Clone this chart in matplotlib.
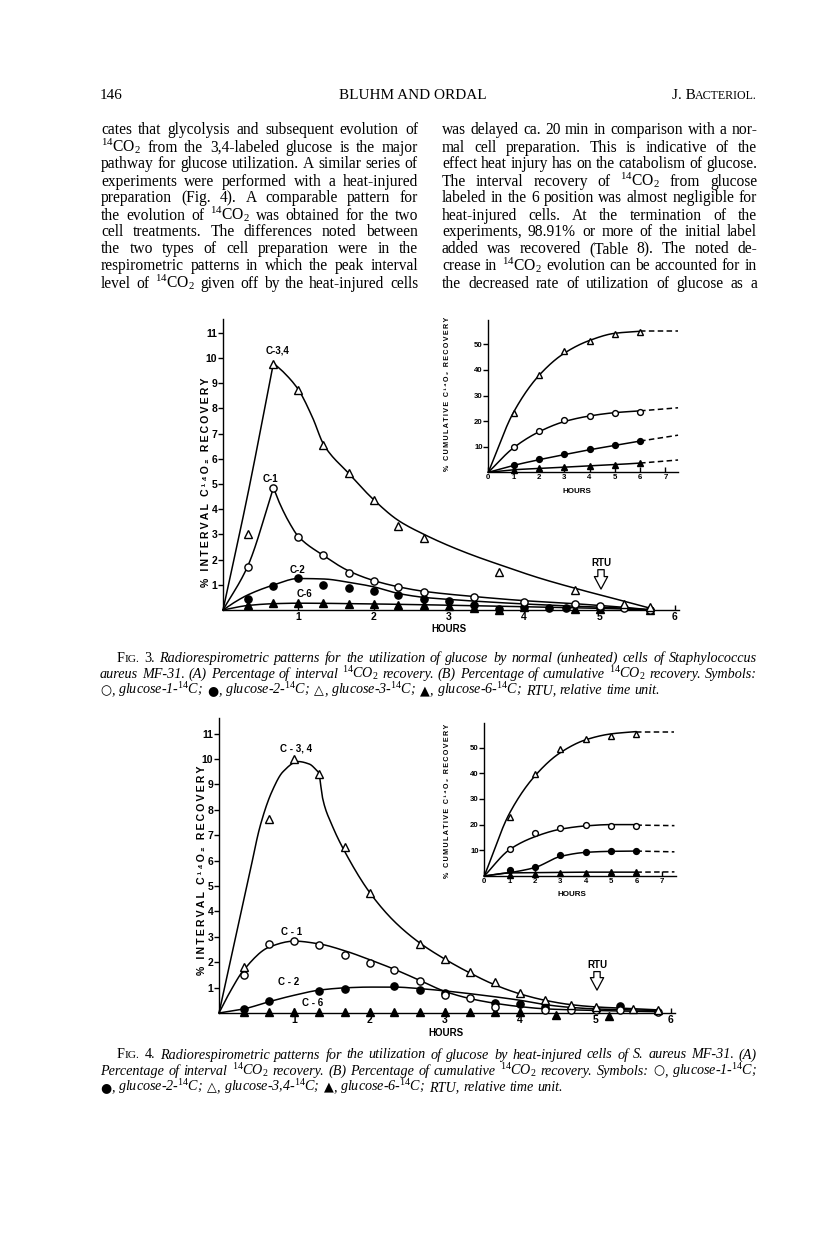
import numpy as np
import matplotlib
matplotlib.use("Agg")
import matplotlib.pyplot as plt

plt.rcParams['font.family'] = ['Liberation Sans', 'DejaVu Sans']
plt.rcParams['font.weight'] = 'normal'
plt.rcParams['mathtext.fontset'] = 'custom'
plt.rcParams['mathtext.rm'] = 'Liberation Serif'
plt.rcParams['mathtext.it'] = 'Liberation Serif:italic'
plt.rcParams['mathtext.bf'] = 'Liberation Sans:bold'
plt.rcParams['axes.linewidth'] = 1.0

# ---------------------------------------------------------------- data
# Fig. 3 (normal cells) - interval recovery (A)
f3_c34_x = [0.33, 0.67, 1.0, 1.33, 1.67, 2.0, 2.33, 2.67, 3.67, 4.67, 5.33, 5.67]
f3_c34_y = [3.0, 9.75, 8.75, 6.55, 5.45, 4.35, 3.35, 2.85, 1.5, 0.8, 0.25, 0.12]
f3_c1_x = [0.33, 0.67, 1.0, 1.33, 1.67, 2.0, 2.33, 2.67, 3.33, 4.0, 4.67, 5.0, 5.33, 5.67]
f3_c1_y = [1.72, 4.85, 2.9, 2.17, 1.47, 1.15, 0.9, 0.7, 0.52, 0.33, 0.25, 0.14, 0.06, 0.0]
f3_c2_x = [0.33, 0.67, 1.0, 1.33, 1.67, 2.0, 2.33, 2.67, 3.0, 3.33, 3.67, 4.0, 4.33, 4.55, 5.0, 5.67]
f3_c2_y = [0.43, 0.95, 1.28, 0.98, 0.86, 0.74, 0.6, 0.45, 0.34, 0.2, 0.05, 0.13, 0.08, 0.08, 0.08, 0.0]
f3_c6_x = [0.33, 0.67, 1.0, 1.33, 1.67, 2.0, 2.33, 2.67, 3.0, 3.33, 3.67, 4.0, 4.67, 5.0, 5.67]
f3_c6_y = [0.18, 0.27, 0.28, 0.27, 0.24, 0.22, 0.2, 0.18, 0.15, 0.08, 0.0, 0.1, 0.02, 0.05, 0.0]
# hand-drawn fitted curves (knots)
f3_c34_rise_x = [0, 0.33, 0.67]
f3_c34_rise_y = [0, 4.6, 9.8]
f3_c34_fall_x = [0.67, 0.8, 1.0, 1.19, 1.34, 1.67, 2.0, 2.33, 2.67, 3.0, 3.32, 3.68, 4.21, 4.69, 5.35, 5.7]
f3_c34_fall_y = [9.8, 9.45, 8.75, 7.63, 6.55, 5.42, 4.38, 3.55, 3.0, 2.55, 2.17, 1.79, 1.26, 0.85, 0.33, 0.05]
f3_c1_rise_x = [0, 0.33, 0.67]
f3_c1_rise_y = [0, 1.75, 4.85]
f3_c1_fall_x = [0.67, 0.75, 0.88, 1.0, 1.33, 1.67, 2.0, 2.33, 2.67, 3.35, 4.0, 4.67, 5.0, 5.35, 5.7]
f3_c1_fall_y = [4.85, 4.25, 3.47, 2.92, 2.17, 1.55, 1.17, 0.92, 0.74, 0.53, 0.37, 0.25, 0.18, 0.1, 0.0]
f3_c2_fit_x = [0, 0.15, 0.33, 0.67, 1.0, 1.34, 1.67, 2.0, 2.34, 2.67, 3.0, 3.35, 4.0, 4.67, 5.35, 5.7]
f3_c2_fit_y = [0, 0.3, 0.6, 0.99, 1.25, 1.23, 1.1, 0.92, 0.65, 0.5, 0.42, 0.35, 0.24, 0.15, 0.07, 0.0]
f3_c6_fit_x = [0, 0.33, 0.67, 1.0, 2.0, 3.0, 4.0, 5.0, 5.7]
f3_c6_fit_y = [0, 0.18, 0.25, 0.27, 0.24, 0.19, 0.13, 0.07, 0.0]

# Fig. 3 inset - cumulative recovery (B)
cum_hours = [1, 2, 3, 4, 5, 6]
f3b_c34 = [23.0, 38.2, 47.4, 51.2, 53.9, 54.8]
f3b_c1 = [10.0, 16.2, 20.4, 21.9, 23.0, 23.4]
f3b_c2 = [2.9, 5.2, 7.0, 9.0, 10.6, 12.3]
f3b_c6 = [1.0, 1.5, 2.0, 2.5, 3.0, 3.6]
fit_hours = [0, 1, 2, 3, 4, 5, 6]
f3b_c34_fit = [0, 23.5, 37.8, 46.5, 51.5, 54.3, 55.1]
f3b_c1_fit = [0, 9.6, 15.8, 19.8, 22.0, 23.3, 24.0]
f3b_c2_fit = [0, 2.7, 4.9, 6.9, 8.8, 10.5, 12.2]
f3b_c6_fit = [0, 1.0, 1.5, 2.0, 2.5, 3.0, 3.6]
dash_hours = [6, 7.5]
f3b_c34_dash = [55.1, 55.1]
f3b_c1_dash = [24.0, 25.2]
f3b_c2_dash = [12.2, 14.5]
f3b_c6_dash = [3.6, 4.8]

# Fig. 4 (heat-injured cells) - interval recovery (A)
f4_c34_x = [0.33, 0.67, 1.0, 1.33, 1.67, 2.0, 2.67, 3.0, 3.33, 3.67, 4.0, 4.33, 4.67, 5.0, 5.5, 5.83]
f4_c34_y = [1.81, 7.63, 9.99, 9.4, 6.54, 4.73, 2.73, 2.14, 1.62, 1.23, 0.77, 0.51, 0.31, 0.25, 0.15, 0.1]
f4_c1_x = [0.33, 0.67, 1.0, 1.33, 1.67, 2.0, 2.33, 2.67, 3.0, 3.33, 3.67, 4.33, 4.67, 5.0, 5.33, 5.83]
f4_c1_y = [1.48, 2.73, 2.83, 2.67, 2.3, 1.98, 1.68, 1.25, 0.7, 0.59, 0.25, 0.12, 0.1, 0.1, 0.1, 0.05]
f4_c2_x = [0.33, 0.67, 1.33, 1.67, 2.33, 2.67, 3.0, 3.67, 4.0, 4.33, 5.33]
f4_c2_y = [0.17, 0.46, 0.87, 0.96, 1.05, 0.89, 0.8, 0.41, 0.37, 0.24, 0.26]
f4_c6_x = [0.33, 0.67, 1.0, 1.33, 1.67, 2.0, 2.33, 2.67, 3.0, 3.33, 3.67, 4.0, 4.48, 5.18]
f4_c6_y = [0.05, 0.05, 0.05, 0.05, 0.05, 0.05, 0.05, 0.05, 0.05, 0.05, 0.05, 0.05, -0.08, -0.1]
f4_c34_rise_x = [0, 0.2, 0.4, 0.55, 0.7, 0.85, 1.05, 1.2, 1.33]
f4_c34_rise_y = [0, 2.7, 5.4, 7.4, 8.7, 9.5, 9.9, 9.8, 9.45]
f4_c34_fall_x = [1.33, 1.38, 1.5, 1.68, 2.0, 2.33, 2.67, 3.0, 3.33, 3.67, 4.0, 4.33, 4.67, 5.0, 5.5, 5.85]
f4_c34_fall_y = [9.45, 8.4, 7.4, 6.3, 4.75, 3.6, 2.75, 2.12, 1.58, 1.1, 0.75, 0.5, 0.33, 0.24, 0.17, 0.12]
f4_c1_fit_x = [0, 0.15, 0.33, 0.67, 1.0, 1.33, 1.67, 2.0, 2.33, 2.67, 3.0, 3.33, 3.67, 4.0, 4.35, 5.0, 5.85]
f4_c1_fit_y = [0, 0.85, 1.7, 2.6, 2.83, 2.72, 2.45, 2.1, 1.72, 1.28, 0.85, 0.57, 0.38, 0.25, 0.16, 0.1, 0.05]
f4_c2_fit_x = [0, 0.33, 0.67, 1.0, 1.33, 1.67, 2.0, 2.33, 2.67, 3.0, 3.5, 4.0, 4.33, 4.67, 5.0, 5.5, 5.85]
f4_c2_fit_y = [0, 0.16, 0.45, 0.7, 0.9, 0.99, 1.02, 1.02, 0.96, 0.87, 0.7, 0.5, 0.33, 0.22, 0.16, 0.12, 0.1]

# Fig. 4 inset - cumulative recovery (B)
f4b_c34 = [23.1, 39.6, 49.5, 53.4, 54.3, 55.3]
f4b_c1 = [10.4, 16.6, 18.6, 19.9, 19.5, 19.5]
f4b_c2 = [2.3, 3.6, 8.2, 9.5, 9.7, 9.7]
f4b_c6 = [0.2, 0.8, 1.0, 1.2, 1.4, 1.5]
f4b_c34_fit = [0, 24.5, 39.0, 48.0, 53.0, 55.3, 56.2]
f4b_c1_fit = [0, 10.3, 15.3, 18.2, 19.5, 20.0, 20.0]
f4b_c2_fit = [0, 1.3, 3.3, 7.6, 9.2, 9.6, 9.7]
f4b_c6_fit = [0, 1.2, 1.3, 1.4, 1.5, 1.5, 1.5]
f4b_c34_dash = [56.2, 56.2]
f4b_c1_dash = [19.8, 19.6]
f4b_c2_dash = [9.7, 9.4]
f4b_c6_dash = [1.5, 1.6]

main_xticks = [1, 2, 3, 4, 5, 6]
main_yticks = [1, 2, 3, 4, 5, 6, 7, 8, 9, 10, 11]
inset_xticks = [0, 1, 2, 3, 4, 5, 6, 7]
inset_yticks = [10, 20, 30, 40, 50]

header_left = "146"
header_mid = "BLUHM AND ORDAL"
body_left = [
    "cates that glycolysis and subsequent evolution of",
    "$^{14}$CO$_2$ from the 3,4-labeled glucose is the major",
    "pathway for glucose utilization. A similar series of",
    "experiments were performed with a heat-injured",
    "preparation (Fig. 4). A comparable pattern for",
    "the evolution of $^{14}$CO$_2$ was obtained for the two",
    "cell treatments. The differences noted between",
    "the two types of cell preparation were in the",
    "respirometric patterns in which the peak interval",
    "level of $^{14}$CO$_2$ given off by the heat-injured cells",
]
body_right = [
    "was delayed ca. 20 min in comparison with a nor-",
    "mal cell preparation. This is indicative of the",
    "effect heat injury has on the catabolism of glucose.",
    "The interval recovery of $^{14}$CO$_2$ from glucose",
    "labeled in the 6 position was almost negligible for",
    "heat-injured cells. At the termination of the",
    "experiments, 98.91% or more of the initial label",
    "added was recovered (Table 8). The noted de-",
    "crease in $^{14}$CO$_2$ evolution can be accounted for in",
    "the decreased rate of utilization of glucose as a",
]
cap3 = [
    "Radiorespirometric patterns for the utilization of glucose by normal (unheated) cells of Staphylococcus",
    "aureus MF-31. (A) Percentage of interval $^{14}$CO$_2$ recovery. (B) Percentage of cumulative $^{14}$CO$_2$ recovery. Symbols:",
    "○, glucose-1-$^{14}$C; ●, glucose-2-$^{14}$C; △, glucose-3-$^{14}$C; ▲, glucose-6-$^{14}$C; RTU, relative time unit.",
]
cap4 = [
    "Radiorespirometric patterns for the utilization of glucose by heat-injured cells of S. aureus MF-31. (A)",
    "Percentage of interval $^{14}$CO$_2$ recovery. (B) Percentage of cumulative $^{14}$CO$_2$ recovery. Symbols: ○, glucose-1-$^{14}$C;",
    "●, glucose-2-$^{14}$C; △, glucose-3,4-$^{14}$C; ▲, glucose-6-$^{14}$C; RTU, relative time unit.",
]
SYMBOLS = ["○", "●", "△", "▲"]

# ---------------------------------------------------------------- figure
W, H = 816, 1260
fig = plt.figure(figsize=(W / 100, H / 100), dpi=100)
fig.patch.set_facecolor('white')
renderer = fig.canvas.get_renderer()
SERIF = ['Liberation Serif', 'DejaVu Serif']


def run_kw(kw, d):
    k = dict(kw)
    for kk, v in d.items():
        if kk != 'rel':
            k[kk] = v
    k['fontsize'] = kw['fontsize'] * d.get('rel', 1.0)
    return k


def text_w(s, **kw):
    t = fig.text(0, 0, s, **kw)
    w = t.get_window_extent(renderer).width
    t.remove()
    return w


def put(s, x, y, **kw):
    return fig.text(x / W, 1 - y / H, s, va='baseline', ha='left', **kw)


def word_width(word, kw):
    return sum(text_w(s, **run_kw(kw, d)) for s, d in word)


def layout(words, x0, x1, y, kw, just=True, space_em=0.25):
    widths = [word_width(wd, kw) for wd in words]
    n = len(words)
    if just and n > 1:
        gap = (x1 - x0 - sum(widths)) / (n - 1)
    else:
        gap = space_em * kw['fontsize'] * 100 / 72
    x = x0
    for wd, w in zip(words, widths):
        cx = x
        for s, d in wd:
            k = run_kw(kw, d)
            put(s, cx, y, **k)
            cx += text_w(s, **k)
        x += w + gap


def fit_size(lines, widths_avail, kw, maxsize, minspace=0.22):
    best = maxsize
    k10 = dict(kw, fontsize=10)
    for words, cw in zip(lines, widths_avail):
        sw = sum(word_width(wd, k10) for wd in words)
        s = cw / (sw / 10 + (len(words) - 1) * minspace * 100 / 72)
        best = min(best, s)
    return best


SYM_RUN = {'family': ['DejaVu Sans'], 'style': 'normal', 'rel': 0.9}


def words_of(line):
    out = []
    for w in line.split(' '):
        if w and w[0] in SYMBOLS:
            out.append([(w[0], SYM_RUN), (w[1:], {})])
        else:
            out.append([(w, {})])
    return out


# header
hkw = dict(family=SERIF, weight='normal', fontsize=11)
put(header_left, 100, 99, **hkw)
fig.text(413 / W, 1 - 99 / H, header_mid, ha='center', va='baseline', **hkw)
jb = [("J. B", {}), ("ACTERIOL.", {'rel': 0.78})]
jw = word_width(jb, hkw)
layout([jb], 757 - jw, 757, 99, hkw, just=False)

# body text
bkw = dict(family=SERIF, weight='normal', fontsize=11)
lw_ = [words_of(l) for l in body_left]
rw_ = [words_of(l) for l in body_right]
bs = fit_size(lw_ + rw_, [317] * 10 + [315] * 10, bkw, 11.2)
bkw['fontsize'] = bs
for i, (a, b) in enumerate(zip(lw_, rw_)):
    y = 134.5 + i * 17.0
    layout(a, 101, 418, y, bkw)
    layout(b, 442, 757, y, bkw)

# captions
ckw = dict(family=SERIF, weight='normal', style='italic', fontsize=10)
rom = {'style': 'normal'}


def caption(lines, num):
    l1 = [[("F", rom), ("IG.", dict(rom, rel=0.8))], [(num + ".", rom)]] + words_of(lines[0])
    return l1, words_of(lines[1]), words_of(lines[2])


c3 = caption(cap3, "3")
c4 = caption(cap4, "4")
cs = fit_size([c3[0], c3[1], c4[0], c4[1]], [640, 657, 640, 657], ckw, 10.2, minspace=0.2)
ckw['fontsize'] = cs
for (l1, l2, l3), y0 in [(c3, 662), (c4, 1058.5)]:
    layout(l1, 117, 757, y0, ckw)
    layout(l2, 100, 757, y0 + 16.2, ckw)
    layout(l3, 100, 757, y0 + 32.4, ckw, just=False, space_em=0.26)


# ---------------------------------------------------------------- charts
def pchip(xk, yk, n=200):
    x = np.asarray(xk, float)
    y = np.asarray(yk, float)
    h = np.diff(x)
    d = np.diff(y) / h
    m = np.zeros_like(y)
    m[0] = d[0]
    m[-1] = d[-1]
    for k in range(1, len(x) - 1):
        if d[k - 1] * d[k] <= 0:
            m[k] = 0.0
        else:
            w1 = 2 * h[k] + h[k - 1]
            w2 = h[k] + 2 * h[k - 1]
            m[k] = (w1 + w2) / (w1 / d[k - 1] + w2 / d[k])
    xs = np.linspace(x[0], x[-1], n)
    idx = np.clip(np.searchsorted(x, xs) - 1, 0, len(x) - 2)
    t = (xs - x[idx]) / h[idx]
    h00 = 2 * t ** 3 - 3 * t ** 2 + 1
    h10 = t ** 3 - 2 * t ** 2 + t
    h01 = -2 * t ** 3 + 3 * t ** 2
    h11 = t ** 3 - t ** 2
    ys = h00 * y[idx] + h10 * h[idx] * m[idx] + h01 * y[idx + 1] + h11 * h[idx] * m[idx + 1]
    return xs, ys


def make_axes(x0, y0, xs, ys, xlim, ylim, xticks, yticks, lsize):
    left = x0 + xlim[0] * xs
    width = (xlim[1] - xlim[0]) * xs
    bottom = y0 - ylim[0] * ys
    height = (ylim[1] - ylim[0]) * ys
    ax = fig.add_axes([left / W, 1 - bottom / H, width / W, height / H])
    ax.set_xlim(*xlim)
    ax.set_ylim(*ylim)
    ax.patch.set_alpha(0)
    for s in ['top', 'right']:
        ax.spines[s].set_visible(False)
    ax.set_xticks(xticks)
    ax.set_xticklabels([str(v) for v in xticks], fontweight='bold')
    ax.set_yticks(yticks)
    ax.set_yticklabels([str(v) for v in yticks], fontweight='bold')
    ax.tick_params(axis='x', direction='in', length=3.5, width=1.0, pad=1.5, labelsize=lsize)
    ax.tick_params(axis='y', direction='out', length=3.5, width=1.0, pad=0.6, labelsize=lsize)
    return ax


STY = {
    'oc': dict(marker='o', mfc='white', mec='black'),
    'fc': dict(marker='o', mfc='black', mec='black'),
    'ot': dict(marker='^', mfc='white', mec='black'),
    'ft': dict(marker='^', mfc='black', mec='black'),
}


def pts(ax, x, y, kind, ms):
    ax.plot(x, y, ls='none', mew=1.0, ms=ms, zorder=5, clip_on=False, **STY[kind])


def curve(ax, xk, yk, lw=1.1):
    xs, ys = pchip(xk, yk)
    ax.plot(xs, ys, color='black', lw=lw, zorder=3, clip_on=False, solid_capstyle='round')


def dash(ax, x, y):
    ax.plot(x, y, color='black', lw=1.1, dashes=(3.6, 2.2), zorder=3, clip_on=False)


def spaced(s):
    return "\u2009".join(s)


def ylabel(text, xc, yc, size, length):
    s = spaced(text)
    w = text_w(s, fontsize=size, fontweight='bold')
    size = size * min(1.12, max(0.88, length / w))
    fig.text(xc / W, 1 - yc / H, s, rotation=90, ha='center', va='center',
             fontsize=size, fontweight='bold')


def rtu(ax, x, y_text, y_top, y_tip):
    ax.text(x, y_text, "RTU", ha='center', va='center', fontsize=7, fontweight='bold')
    ax.annotate("", xy=(x, y_tip), xytext=(x, y_top),
                arrowprops=dict(arrowstyle="simple,head_length=0.75,head_width=0.8,tail_width=0.38",
                                fc='white', ec='black', lw=0.9, shrinkA=0, shrinkB=0,
                                mutation_scale=12))


def lab(ax, x, y, s, size=7):
    ax.text(x, y, s, ha='center', va='center', fontsize=size, fontweight='bold')


def hours(x, y, size):
    fig.text(x / W, 1 - y / H, "HOURS", ha='center', va='center', fontsize=size, fontweight='bold')


MAIN_LAB = "% INTERVAL C¹⁴O₂ RECOVERY"
CUM_LAB = "% CUMULATIVE C¹⁴O₂ RECOVERY"

# ---- Fig. 3 main
ax = make_axes(223, 610, 75.3, 25.2, (0, 6.05), (0, 11.55), main_xticks, main_yticks, 7.5)
curve(ax, f3_c34_rise_x, f3_c34_rise_y)
curve(ax, f3_c34_fall_x, f3_c34_fall_y)
curve(ax, f3_c1_rise_x, f3_c1_rise_y)
curve(ax, f3_c1_fall_x, f3_c1_fall_y)
curve(ax, f3_c2_fit_x, f3_c2_fit_y)
curve(ax, f3_c6_fit_x, f3_c6_fit_y)
pts(ax, f3_c6_x, f3_c6_y, 'ft', 6)
pts(ax, f3_c2_x, f3_c2_y, 'fc', 5.2)
pts(ax, f3_c1_x, f3_c1_y, 'oc', 5.2)
pts(ax, f3_c34_x, f3_c34_y, 'ot', 6.2)
lab(ax, 0.72, 10.3, "C-3,4")
lab(ax, 0.63, 5.2, "C-1")
lab(ax, 0.99, 1.59, "C-2")
lab(ax, 1.08, 0.62, "C-6")
rtu(ax, 5.02, 1.86, 1.6, 0.83)
hours(449, 629, 7)
ylabel(MAIN_LAB, 206, 482, 7.4, 205)

# ---- Fig. 3 inset
ai = make_axes(488.3, 472.3, 25.3, 2.56, (0, 7.5), (0, 59.5), inset_xticks, inset_yticks, 5.6)
curve(ai, fit_hours, f3b_c34_fit)
curve(ai, fit_hours, f3b_c1_fit)
curve(ai, fit_hours, f3b_c2_fit)
curve(ai, fit_hours, f3b_c6_fit)
dash(ai, dash_hours, f3b_c34_dash)
dash(ai, dash_hours, f3b_c1_dash)
dash(ai, dash_hours, f3b_c2_dash)
dash(ai, dash_hours, f3b_c6_dash)
pts(ai, cum_hours, f3b_c6, 'ft', 4.6)
pts(ai, cum_hours, f3b_c2, 'fc', 4.2)
pts(ai, cum_hours, f3b_c1, 'oc', 4.2)
pts(ai, cum_hours, f3b_c34, 'ot', 4.8)
hours(577, 492, 5.8)
ylabel(CUM_LAB, 447, 394, 5.6, 155)

# ---- Fig. 4 main
bx = make_axes(219, 1013, 75.3, 25.4, (0, 6.05), (0, 11.6), main_xticks, main_yticks, 7.5)
curve(bx, f4_c34_rise_x, f4_c34_rise_y)
curve(bx, f4_c34_fall_x, f4_c34_fall_y)
curve(bx, f4_c1_fit_x, f4_c1_fit_y)
curve(bx, f4_c2_fit_x, f4_c2_fit_y)
pts(bx, f4_c6_x, f4_c6_y, 'ft', 6)
pts(bx, f4_c2_x, f4_c2_y, 'fc', 5.2)
pts(bx, f4_c1_x, f4_c1_y, 'oc', 5.2)
pts(bx, f4_c34_x, f4_c34_y, 'ot', 6.2)
lab(bx, 1.03, 10.4, "C - 3, 4")
lab(bx, 0.96, 3.2, "C - 1")
lab(bx, 0.92, 1.23, "C - 2")
lab(bx, 1.25, 0.4, "C - 6")
rtu(bx, 5.02, 1.89, 1.63, 0.9)
hours(446, 1033, 7)
ylabel(MAIN_LAB, 202, 870, 7.4, 205)

# ---- Fig. 4 inset
bi = make_axes(484.3, 876, 25.35, 2.57, (0, 7.55), (0, 59.5), inset_xticks, inset_yticks, 5.6)
curve(bi, fit_hours, f4b_c34_fit)
curve(bi, fit_hours, f4b_c1_fit)
curve(bi, fit_hours, f4b_c2_fit)
curve(bi, fit_hours, f4b_c6_fit)
dash(bi, dash_hours, f4b_c34_dash)
dash(bi, dash_hours, f4b_c1_dash)
dash(bi, dash_hours, f4b_c2_dash)
dash(bi, dash_hours, f4b_c6_dash)
pts(bi, cum_hours, f4b_c6, 'ft', 4.6)
pts(bi, cum_hours, f4b_c2, 'fc', 4.2)
pts(bi, cum_hours, f4b_c1, 'oc', 4.2)
pts(bi, cum_hours, f4b_c34, 'ot', 4.8)
hours(572, 894, 5.8)
ylabel(CUM_LAB, 447, 801, 5.6, 153)

fig.savefig("out.png", dpi=100, facecolor='white')
